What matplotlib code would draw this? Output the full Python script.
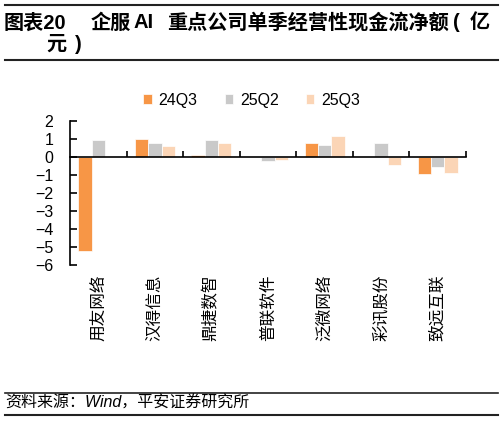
import numpy as np
import matplotlib
matplotlib.use("Agg")
from matplotlib import pyplot as plt
from matplotlib.lines import Line2D
from matplotlib.transforms import blended_transform_factory

plt.rcParams["font.family"] = ["Liberation Sans", "Noto Sans CJK SC"]

companies = ["用友网络", "汉得信息", "鼎捷数智", "普联软件", "泛微网络", "彩讯股份", "致远互联"]
series_names = ["24Q3", "25Q2", "25Q3"]
v_24q3 = [-5.22, 1.02, 0.09, -0.02, 0.76, 0.02, -0.96]
v_25q2 = [0.93, 0.76, 0.93, -0.22, 0.69, 0.76, -0.55]
v_25q3 = [0.02, 0.61, 0.76, -0.19, 1.19, -0.46, -0.89]
colors = ["#F79646", "#C9C9C9", "#FBD5B6"]

fig = plt.figure(figsize=(5.03, 4.22), dpi=100)
ax = fig.add_axes([0.1392, 0.3728, 0.7872, 0.3405])

x = np.arange(len(companies))
w = 0.235
for k, (vals, name) in enumerate(zip([v_24q3, v_25q2, v_25q3], series_names)):
    ax.bar(x + (k - 1) * w, vals, width=w, color=colors[k], label=name,
           edgecolor="white", linewidth=0.5, zorder=2)

ax.set_xlim(-0.5, len(companies) - 0.5)
ax.set_ylim(-6, 2)
ax.set_yticks(range(-6, 3))
ax.spines["top"].set_visible(False)
ax.spines["right"].set_visible(False)
ax.spines["bottom"].set_position(("data", 0))
ax.spines["bottom"].set_zorder(3)
ax.spines["left"].set_linewidth(1.2)
ax.spines["bottom"].set_linewidth(1.2)
ax.set_xticks(x + 0.5)
ax.tick_params(axis="x", direction="in", length=4, width=1.2, labelbottom=False)
ax.tick_params(axis="y", direction="in", length=5, width=1.2, labelsize=11.5, pad=12)

trans = blended_transform_factory(ax.transData, ax.transAxes)
for i, name in enumerate(companies):
    ax.text(i, -0.065, name, rotation=90, ha="center", va="top",
            fontsize=12, family=["Noto Sans CJK SC"], transform=trans)

fig.legend(loc="center", bbox_to_anchor=(0.5, 0.763), ncol=3, frameon=False,
           fontsize=11.5, handlelength=0.55, handleheight=0.55,
           handletextpad=0.4, columnspacing=1.7)

# title block, pieces placed like the source layout (pixel x, pixel y)
title_font = dict(fontsize=14.5, fontweight="bold", va="center",
                  family=["Liberation Sans", "Noto Sans CJK SC"])
for txt, px, py in [("图表20", 4, 23), ("企服", 91, 23), ("AI", 134, 23),
                    ("重点公司单季经营性现金流净额", 167, 23), ("(", 453, 23),
                    ("亿", 470, 23), ("元", 46, 44), (")", 75, 44)]:
    fig.text(px / 503, 1 - py / 422, txt, **title_font)

fig.text(0.01, 0.045, "资料来源：Wind，平安证券研究所", fontsize=11.5,
         style="italic", family=["Liberation Sans", "Noto Sans CJK SC"], va="center")

for yp, lw in [(417, 1.5), (362, 1.5), (29, 1.2), (7, 1.5)]:
    fig.add_artist(Line2D([5 / 503, 498 / 503], [yp / 422, yp / 422],
                          color="#222222", linewidth=lw,
                          transform=fig.transFigure))

fig.savefig("out.png", dpi=100)
